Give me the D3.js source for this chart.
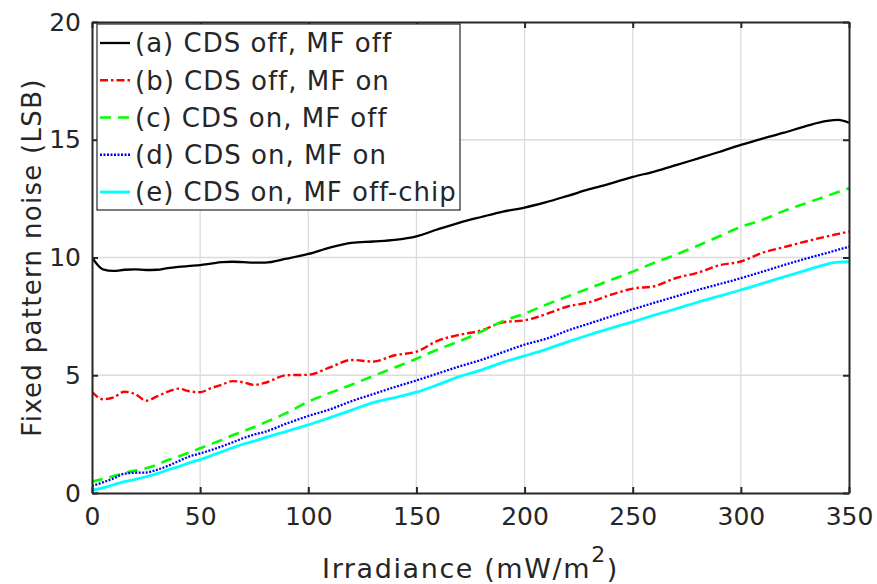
<!DOCTYPE html>
<html><head><meta charset="utf-8">
<script src="https://cdn.jsdelivr.net/npm/d3@7"></script>
<style>body{margin:0;background:#fff}svg{display:block}text{font-family:"DejaVu Sans",Verdana,sans-serif;fill:#262626}</style>
</head><body><svg id="c" width="877" height="584"></svg>
<script>
const irradiance = [0,5,10,15,20,25,30,35,40,45,50,55,60,65,70,75,80,90,100,110,120,130,140,150,160,170,180,190,200,210,220,230,240,250,260,270,280,290,300,310,320,330,340,345,350];
const seriesA = [10.0,9.5,9.43,9.48,9.5,9.47,9.48,9.55,9.6,9.64,9.68,9.74,9.8,9.82,9.8,9.78,9.78,9.95,10.15,10.42,10.62,10.68,10.75,10.9,11.2,11.48,11.72,11.95,12.12,12.35,12.62,12.9,13.15,13.42,13.65,13.92,14.2,14.48,14.78,15.05,15.3,15.58,15.8,15.84,15.72];
const seriesB = [4.3,3.98,4.06,4.3,4.2,3.92,4.1,4.3,4.43,4.32,4.28,4.45,4.6,4.75,4.7,4.59,4.68,5.0,5.02,5.33,5.65,5.58,5.85,6.0,6.47,6.72,6.9,7.25,7.33,7.6,7.92,8.1,8.42,8.68,8.78,9.13,9.35,9.67,9.83,10.2,10.44,10.68,10.9,11.0,11.1];
const seriesC = [0.48,0.6,0.72,0.85,0.95,1.05,1.2,1.4,1.55,1.72,1.9,2.08,2.25,2.45,2.62,2.8,3.0,3.4,3.88,4.25,4.6,4.97,5.33,5.7,6.1,6.45,6.85,7.3,7.62,8.0,8.35,8.7,9.05,9.4,9.78,10.12,10.5,10.9,11.3,11.6,11.98,12.3,12.62,12.78,12.94];
const seriesD = [0.3,0.45,0.62,0.82,0.86,0.87,0.98,1.15,1.35,1.55,1.68,1.82,1.98,2.15,2.33,2.48,2.6,2.95,3.27,3.55,3.9,4.2,4.5,4.78,5.08,5.38,5.65,5.98,6.3,6.55,6.9,7.2,7.5,7.8,8.08,8.35,8.62,8.87,9.12,9.4,9.68,9.95,10.2,10.33,10.46];
const seriesE = [0.12,0.22,0.35,0.48,0.58,0.69,0.82,0.98,1.12,1.28,1.42,1.58,1.75,1.92,2.08,2.2,2.35,2.62,2.89,3.2,3.52,3.84,4.05,4.28,4.6,4.95,5.22,5.55,5.82,6.1,6.42,6.72,7.0,7.27,7.55,7.82,8.1,8.36,8.62,8.9,9.18,9.45,9.72,9.8,9.82];
const legendLabels = ["(a) CDS off, MF off","(b) CDS off, MF on","(c) CDS on, MF off","(d) CDS on, MF on","(e) CDS on, MF off-chip"];
const xTicks = [0,50,100,150,200,250,300,350];
const yTicks = [0,5,10,15,20];

const styles = [
  {color:"#000000", dash:null, w:2.3},
  {color:"#ff0000", dash:"8,3,2.5,3", w:2.4},
  {color:"#00ff00", dash:"11,7", w:2.6},
  {color:"#0000ff", dash:"2,1.5", w:2.3},
  {color:"#00ffff", dash:null, w:2.8}
];
const allSeries = [seriesA,seriesB,seriesC,seriesD,seriesE];

const svg = d3.select("#c");
const L=92, R=849, T=22, B=493;
const x = d3.scaleLinear().domain([0,350]).range([L,R]);
const y = d3.scaleLinear().domain([0,20]).range([B,T]);

// grid
const g = svg.append("g");
g.selectAll("line.gx").data(xTicks.slice(1,-1)).join("line")
  .attr("x1",d=>x(d)).attr("x2",d=>x(d)).attr("y1",T).attr("y2",B)
  .attr("stroke","#dcdcdc").attr("stroke-width",1.3);
g.selectAll("line.gy").data(yTicks.slice(1,-1)).join("line")
  .attr("x1",L).attr("x2",R).attr("y1",d=>y(d)).attr("y2",d=>y(d))
  .attr("stroke","#dcdcdc").attr("stroke-width",1.3);

// lines
const line = d3.line().x((d,i)=>x(irradiance[i])).y(d=>y(d)).curve(d3.curveMonotoneX);
svg.append("clipPath").attr("id","cp").append("rect").attr("x",L).attr("y",T).attr("width",R-L).attr("height",B-T);
allSeries.forEach((s,k)=>{
  svg.append("path").datum(s).attr("d",line).attr("fill","none")
    .attr("stroke",styles[k].color).attr("stroke-width",styles[k].w)
    .attr("stroke-dasharray",styles[k].dash).attr("clip-path","url(#cp)");
});

// axes
const axCol="#262626";
const xb = svg.append("g").attr("transform",`translate(0,${B})`)
  .call(d3.axisBottom(x).tickValues(xTicks).tickSizeInner(-6).tickSizeOuter(0).tickPadding(14));
const xt = svg.append("g").attr("transform",`translate(0,${T})`)
  .call(d3.axisTop(x).tickValues(xTicks).tickSizeInner(-6).tickSizeOuter(0).tickFormat(""));
const yl = svg.append("g").attr("transform",`translate(${L},0)`)
  .call(d3.axisLeft(y).tickValues(yTicks).tickSizeInner(-6).tickSizeOuter(0).tickPadding(11));
const yr = svg.append("g").attr("transform",`translate(${R},0)`)
  .call(d3.axisRight(y).tickValues(yTicks).tickSizeInner(-6).tickSizeOuter(0).tickFormat(""));
[xb,xt,yl,yr].forEach(a=>{
  a.selectAll(".domain").attr("stroke",axCol).attr("stroke-width",2);
  a.selectAll(".tick line").attr("stroke",axCol).attr("stroke-width",2);
  a.selectAll(".tick text").attr("fill",axCol).style("font-size","25px").style("font-family","'DejaVu Sans',sans-serif");
});
xb.selectAll(".tick text").attr("dy","0.71em");

// axis labels
svg.append("text").attr("x",(L+R)/2).attr("y",578).attr("text-anchor","middle").style("font-size","27px").style("letter-spacing","1.6px")
  .html('Irradiance (mW/m<tspan dy="-16" font-size="22">2</tspan><tspan dy="16">)</tspan>');
svg.append("text").attr("transform",`translate(41,${(T+B)/2}) rotate(-90)`).attr("text-anchor","middle").style("font-size","26px").style("letter-spacing","1.3px")
  .text("Fixed pattern noise (LSB)");

// legend
const lg = svg.append("g");
lg.append("rect").attr("x",97).attr("y",24).attr("width",363).attr("height",186).attr("fill","#fff").attr("stroke",axCol).attr("stroke-width",1.2);
const rowY = d3.scaleLinear().domain([0,4]).range([43,192]);
legendLabels.forEach((t,k)=>{
  lg.append("line").attr("x1",100).attr("x2",130).attr("y1",rowY(k)).attr("y2",rowY(k))
    .attr("stroke",styles[k].color).attr("stroke-width",styles[k].w).attr("stroke-dasharray",styles[k].dash);
  lg.append("text").attr("x",135).attr("y",rowY(k)).attr("dy","0.36em").style("font-size","26px").style("letter-spacing","1px").text(t);
});
</script></body></html>
